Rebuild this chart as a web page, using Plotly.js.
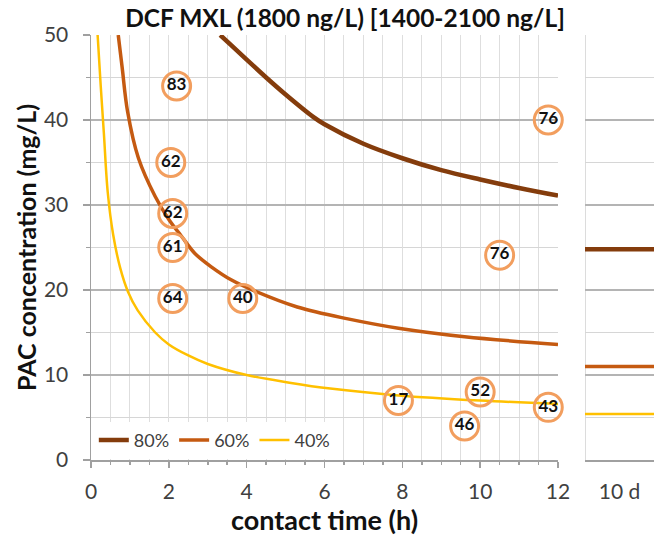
<!DOCTYPE html>
<html>
<head>
<meta charset="utf-8">
<script src="https://cdn.plot.ly/plotly-3.0.1.min.js"></script>
<style>html,body{margin:0;padding:0;background:#fff;} #chart{width:654px;height:544px;}</style>
</head>
<body>
<div id="chart"></div>
<script>
// ---- data ----
const seriesNames = ['80%', '60%', '40%'];

const t80 = [3.32, 3.6, 4.0, 4.5, 5.0, 5.7, 6.0, 7.0, 8.0, 9.0, 10.0, 11.0, 12.0];
const c80 = [50, 48.8, 47.1, 45.0, 43.0, 40.4, 39.5, 37.2, 35.5, 34.1, 33.0, 32.0, 31.1];

const t60 = [0.70, 0.80, 0.94, 1.22, 1.65, 2.0, 2.33, 2.67, 3.1, 3.6, 4.2, 5.3, 6.6, 7.9, 9.6, 12.0];
const c60 = [50, 46.2, 41.0, 35.5, 31.0, 28.3, 26.3, 24.3, 22.7, 21.2, 19.9, 18.0, 16.6, 15.5, 14.5, 13.6];

const t40 = [0.17, 0.25, 0.33, 0.43, 0.57, 0.75, 0.95, 1.2, 1.65, 2.0, 2.5, 3.0, 4.0, 5.1, 6.15, 7.9, 10.0, 12.0];
const c40 = [50, 44, 38.5, 31.5, 26.5, 22.6, 19.8, 17.6, 15.0, 13.6, 12.3, 11.3, 10.0, 9.1, 8.4, 7.6, 7.0, 6.6];

// 10-day values (right panel)
const tenDayLabel = '10 d';
const tenDay = [24.8, 11.0, 5.4];   // 80%, 60%, 40%

// measured points (circles) with removal labels
const ptT = [2.2, 2.05, 2.1, 2.1, 2.1, 3.9, 11.75, 10.5, 7.9, 10.0, 9.6, 11.75];
const ptC = [44, 35, 29, 25, 19, 19, 40, 24.1, 7.0, 8.0, 4.0, 6.2];
const ptLabel = ['83', '62', '62', '61', '64', '40', '76', '76', '17', '52', '46', '43'];

const xTicks = [0, 2, 4, 6, 8, 10, 12];
const yTicks = [0, 10, 20, 30, 40, 50];

// ---- styling ----
const colors = ['#843C0C', '#C55A11', '#FFC000'];
const widths = [4.5, 3.5, 2.5];
const curveT = [t80, t60, t40];
const curveC = [c80, c60, c40];
const FONT = 'Lato, "Open Sans", sans-serif';

const traces = [];
for (let i = 0; i < 3; i++) {
  traces.push({
    type: 'scatter', mode: 'lines', name: seriesNames[i],
    x: curveT[i], y: curveC[i], xaxis: 'x', yaxis: 'y',
    line: {color: colors[i], width: widths[i], shape: 'spline', smoothing: 1},
    legendgroup: seriesNames[i], hoverinfo: 'skip'
  });
}
for (let i = 0; i < 3; i++) {
  traces.push({
    type: 'scatter', mode: 'lines', name: seriesNames[i],
    x: [0, 1], y: [tenDay[i], tenDay[i]], xaxis: 'x2', yaxis: 'y',
    line: {color: colors[i], width: widths[i]},
    legendgroup: seriesNames[i], showlegend: false, hoverinfo: 'skip'
  });
}
traces.push({
  type: 'scatter', mode: 'markers+text', x: ptT, y: ptC, text: ptLabel,
  xaxis: 'x', yaxis: 'y', showlegend: false, cliponaxis: false,
  textposition: 'middle center',
  textfont: {family: FONT, size: 17, color: '#111111', weight: 'bold'},
  marker: {symbol: 'circle', size: 28, color: 'rgba(255,255,255,0)',
           line: {color: '#F29E5E', width: 3}},
  hoverinfo: 'skip'
});

const layout = {
  width: 654, height: 544,
  margin: {l: 91, r: 0, t: 35, b: 84},
  paper_bgcolor: '#ffffff', plot_bgcolor: '#ffffff',
  font: {family: FONT, color: '#404040'},
  title: {text: 'DCF MXL (1800 ng/L) [1400-2100 ng/L]',
          font: {family: FONT, size: 24.5, color: '#111111', weight: 'bold'},
          x: 345 / 654, xanchor: 'center', xref: 'container',
          y: 1 - 18 / 544, yanchor: 'middle', yref: 'container'},
  xaxis: {
    domain: [0, 467 / 563], range: [0, 12], anchor: 'y',
    tickvals: xTicks, ticktext: xTicks.map(String),
    showgrid: true, gridcolor: '#dedede', gridwidth: 1,
    minor: {dtick: 0.5, tick0: 0, showgrid: true, gridcolor: '#dedede', gridwidth: 1,
            ticks: 'outside', ticklen: 3, tickcolor: '#a0a0a0'},
    showline: true, linecolor: '#a0a0a0', linewidth: 1.5,
    ticks: 'outside', ticklen: 6, tickcolor: '#a0a0a0', tickwidth: 1.5,
    zeroline: false,
    tickfont: {family: FONT, size: 21, color: '#404040'},
    ticklabelstandoff: 6,
    title: {text: 'contact time (h)', font: {family: FONT, size: 27, color: '#111111', weight: 'bold'},
            standoff: 6}
  },
  xaxis2: {
    domain: [494 / 563, 1], range: [0, 1], anchor: 'y',
    tickvals: [0.5], ticktext: [tenDayLabel],
    showgrid: false, zeroline: false,
    showline: true, linecolor: '#a0a0a0', linewidth: 1.5,
    ticks: '', tickfont: {family: FONT, size: 21, color: '#404040'},
    ticklabelstandoff: 12
  },
  yaxis: {
    domain: [0, 1], range: [0, 50], anchor: 'x',
    tickvals: yTicks, ticktext: yTicks.map(String),
    showgrid: true, gridcolor: '#b4b4b4', gridwidth: 1.5,
    minor: {dtick: 5, tick0: 0, showgrid: true, gridcolor: '#d6d6d6', gridwidth: 1.2,
            ticks: 'outside', ticklen: 4, tickcolor: '#a0a0a0'},
    showline: true, linecolor: '#a0a0a0', linewidth: 1.5,
    ticks: 'outside', ticklen: 7, tickcolor: '#a0a0a0', tickwidth: 1.5,
    zeroline: false,
    tickfont: {family: FONT, size: 21, color: '#404040'},
    ticklabelstandoff: 10,
    title: {text: 'PAC concentration (mg/L)', font: {family: FONT, size: 25, color: '#111111', weight: 'bold'},
            standoff: 0}
  },
  showlegend: true,
  legend: {
    orientation: 'h', x: 0.005, xanchor: 'left', y: 0.003, yanchor: 'bottom',
    bgcolor: '#ffffff', borderwidth: 0,
    font: {family: FONT, size: 18, color: '#404040'},
    itemwidth: 30, traceorder: 'normal', tracegroupgap: 0
  },
  shapes: [
    {type: 'line', xref: 'x2', yref: 'y', x0: 0, x1: 0, y0: 0, y1: 50,
     line: {color: '#d0d0d0', width: 1.5}, layer: 'below'}
  ]
};

Plotly.newPlot('chart', traces, layout, {displayModeBar: false, staticPlot: true});
</script>
</body>
</html>
